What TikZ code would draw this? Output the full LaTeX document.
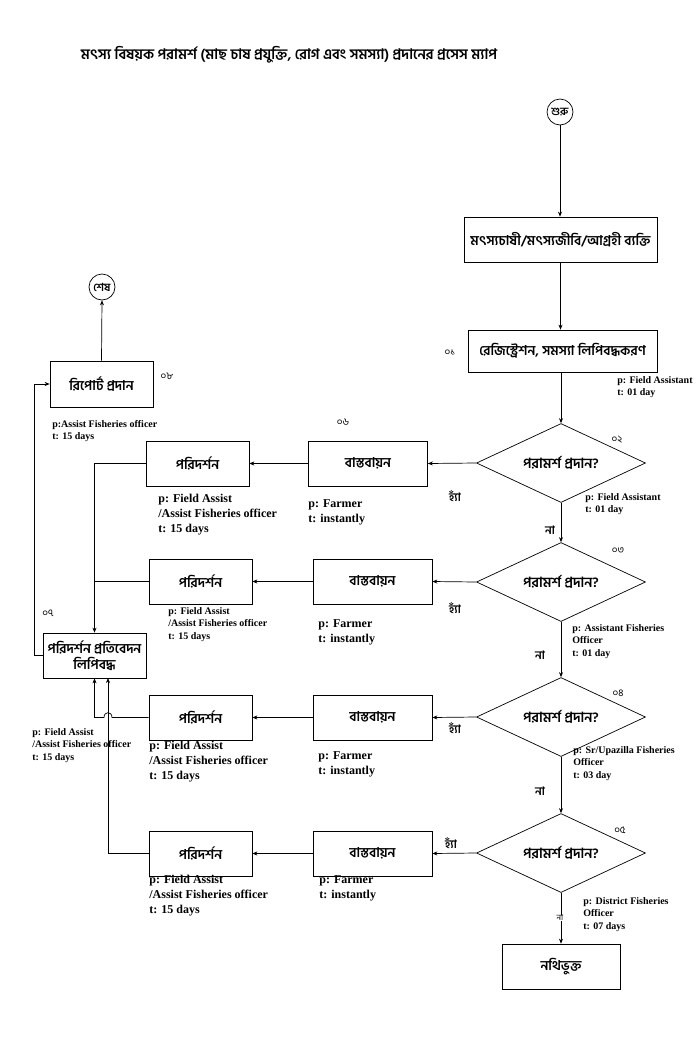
\documentclass[tikz,border=0pt]{standalone}
\usepackage{fontspec}
\setmainfont{Liberation Serif}
\newfontfamily\bn[Script=Bengali]{Hind Siliguri}
\usetikzlibrary{shapes.geometric,arrows.meta}
\begin{document}
\begin{tikzpicture}[x=1pt,y=-1pt,
  line width=0.7pt,
  arr/.style={-{Stealth[length=5pt,width=4pt]}},
  box/.style={draw, rectangle, font=\bn\bfseries\fontsize{13.5}{16}\selectfont, inner sep=0, align=center},
  dia/.style={draw, diamond, aspect=2.14, minimum width=169pt, minimum height=79pt, inner sep=0, font=\bn\bfseries\fontsize{14}{16}\selectfont},
  term/.style={draw, circle, minimum size=26pt, inner sep=0, font=\bn\bfseries\fontsize{11}{12}\selectfont},
  num/.style={font=\bn\fontsize{10}{11}\selectfont, inner sep=0},
  small/.style={font=\bfseries\fontsize{10}{12.5}\selectfont, align=left, anchor=north west, inner sep=0},
  big/.style={font=\bfseries\fontsize{12}{15}\selectfont, align=left, anchor=north west, inner sep=0},
  yn/.style={font=\bn\bfseries\fontsize{11.5}{12}\selectfont, inner sep=0},
  vbox/.style={box, minimum width=119pt, minimum height=45pt},
  pbox/.style={box, minimum width=103pt, minimum height=45pt},
]
\useasboundingbox[fill=white] (0,0) rectangle (700,1050);

% title
\node[font=\bn\bfseries\fontsize{14.5}{16}\selectfont, inner sep=0] (title) at (289,55) {মৎস্য বিষয়ক পরামর্শ (মাছ চাষ প্রযুক্তি, রোগ এবং সমস্যা) প্রদানের প্রসেস ম্যাপ};

% main column
\node[term] (start) at (560,112) {শুরু};
\node[box, minimum width=193pt, minimum height=45pt] (b1) at (560.5,239.5) {মৎস্যচাষী/মৎস্যজীবি/আগ্রহী ব্যক্তি};
\node[box, minimum width=189pt, minimum height=42pt] (b2) at (562.5,351) {রেজিস্ট্রেশন, সমস্যা লিপিবদ্ধকরণ};
\node[dia] (d1) at (561,463) {পরামর্শ প্রদান?};
\node[dia] (d2) at (561,582) {পরামর্শ প্রদান?};
\node[dia] (d3) at (561,717) {পরামর্শ প্রদান?};
\node[dia] (d4) at (561,853) {পরামর্শ প্রদান?};
\node[box, minimum width=118pt, minimum height=45pt] (fin) at (561,966.5) {নথিভুক্ত};

% rows
\node[vbox] (v1) at (368,463.5) {বাস্তবায়ন};
\node[pbox] (p1) at (197.5,463.5) {পরিদর্শন};
\node[vbox] (v2) at (372.5,581.5) {বাস্তবায়ন};
\node[pbox] (p2) at (200.5,581.5) {পরিদর্শন};
\node[vbox] (v3) at (372.5,717.5) {বাস্তবায়ন};
\node[pbox] (p3) at (200.5,717.5) {পরিদর্শন};
\node[vbox] (v4) at (372.5,853.5) {বাস্তবায়ন};
\node[pbox] (p4) at (200.5,853.5) {পরিদর্শন};

% left column
\node[pbox] (rec) at (94.5,655.5) {পরিদর্শন প্রতিবেদন\\লিপিবদ্ধ};
\node[box, minimum width=103pt, minimum height=46pt] (rep) at (101.5,384) {রিপোর্ট প্রদান};
\node[term] (end) at (102,287) {শেষ};

% connectors main column
\draw[arr] (start.south) -- (start.south |- b1.north);
\draw[arr] (b1.south) -- (b1.south |- b2.north);
\draw[arr] (d1.north |- b2.south) -- (d1.north);
\draw[arr] (d1.south) -- (d2.north);
\draw[arr] (d2.south) -- (d3.north);
\draw[arr] (d3.south) -- (d4.north);
\draw[arr] (d4.south) -- (fin.north);

% rows
\draw[arr] (d1.west) -- (v1.east);
\draw[arr] (v1.west) -- (p1.east);
\draw[arr] (d2.west) -- (v2.east);
\draw[arr] (v2.west) -- (p2.east);
\draw[arr] (d3.west) -- (v3.east);
\draw[arr] (v3.west) -- (p3.east);
\draw[arr] (d4.west) -- (v4.east);
\draw[arr] (v4.west) -- (p4.east);

% left collectors
\coordinate (j) at (108,678);
\coordinate (h1) at (112,717.5);
\coordinate (h2) at (104,717.5);
\coordinate (lx) at (34,655.5);
\draw[arr] (p1.west) -| (rec.north);
\draw (p2.west) -- (p2.west -| rec.north);
\draw[arr] (p3.west) -- (h1) .. controls (112,711) and (104,711) .. (h2) -| (rec.south);
\draw[arr] (p4.west) -| (j);
\draw[arr] (rec.west) -- (lx) |- (rep.west);
\draw[arr] (rep.north) -- (end.south);

% numbers
\node[num] (n1) at (450,353) {০১};
\node[num] (n2) at (617,440) {০২};
\node[num] (n3) at (618,551) {০৩};
\node[num] (n4) at (618,693) {০৪};
\node[num] (n5) at (620,830) {০৫};
\node[num] (n6) at (343,422) {০৬};
\node[num] (n7) at (48,613) {০৭};
\node[num] (n8) at (167,376) {০৮};

% yes / no
\node[yn] (y1) at (455,496) {হ্যাঁ};
\node[yn] (y2) at (455,608) {হ্যাঁ};
\node[yn] (y3) at (455,728) {হ্যাঁ};
\node[yn] (y4) at (451,843) {হ্যাঁ};
\node[yn] (no1) at (550,530) {না};
\node[yn] (no2) at (540,655) {না};
\node[yn] (no3) at (540,791) {না};
\node[yn, font=\bn\fontsize{8}{9}\selectfont, fill=white] (no4) at (560,918) {না};

% small labels
\node[small] (l1) at (617,376) {p: Field Assistant\\t: 01 day};
\node[small] (l2) at (585,493) {p: Field Assistant\\t: 01 day};
\node[small] (l3) at (572,624) {p: Assistant Fisheries\\Officer\\t: 01 day};
\node[small] (l4) at (573,746) {p: Sr/Upazilla Fisheries\\Officer\\t: 03 day};
\node[small] (l5) at (583,897) {p: District Fisheries\\Officer\\t: 07 days};
\node[small] (l6) at (52,420) {p:Assist Fisheries officer\\t: 15 days};
\node[small] (l7) at (168,607) {p: Field Assist\\/Assist Fisheries officer\\t: 15 days};
\node[small] (l8) at (32,728) {p: Field Assist\\/Assist Fisheries officer\\t: 15 days};

% big labels
\node[big] (q1) at (158,494) {p: Field Assist\\/Assist Fisheries officer\\t: 15 days};
\node[big] (f1) at (308,499) {p: Farmer\\t: instantly};
\node[big] (f2) at (318,619) {p: Farmer\\t: instantly};
\node[big] (q3) at (149,741) {p: Field Assist\\/Assist Fisheries officer\\t: 15 days};
\node[big] (f3) at (318,751) {p: Farmer\\t: instantly};
\node[big] (q4) at (149,875) {p: Field Assist\\/Assist Fisheries officer\\t: 15 days};
\node[big] (f4) at (319,875) {p: Farmer\\t: instantly};
\end{tikzpicture}
\end{document}
